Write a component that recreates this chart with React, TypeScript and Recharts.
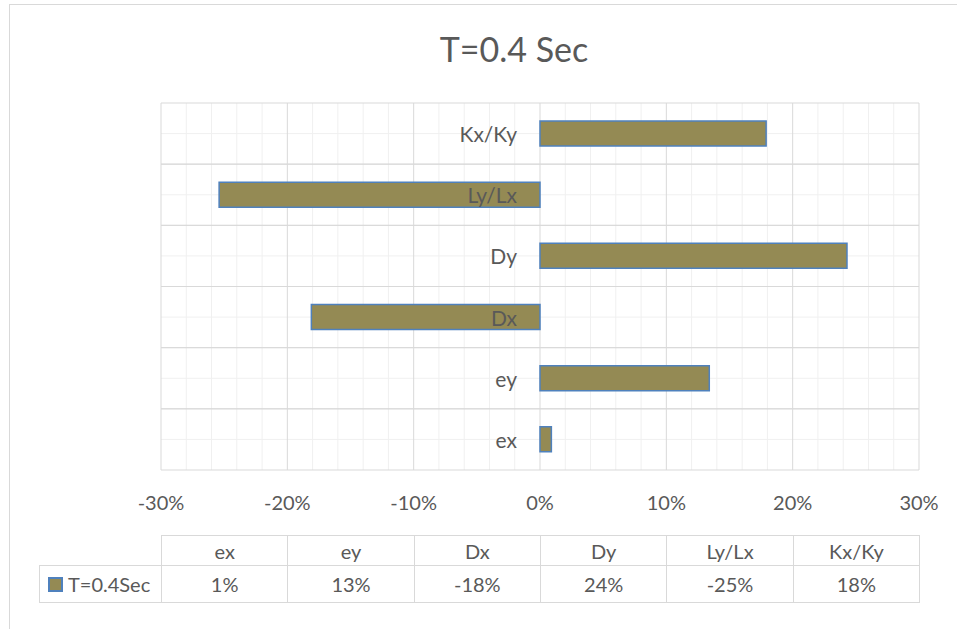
import { BarChart, Bar, XAxis, YAxis, CartesianGrid, LabelList } from "recharts";

const title = "T=0.4 Sec";
const seriesName = "T=0.4Sec";
const categories = ["ex", "ey", "Dx", "Dy", "Ly/Lx", "Kx/Ky"];
const values = [0.9, 13.4, -18.1, 24.3, -25.4, 17.9];
const majorTicks = [-30, -20, -10, 0, 10, 20, 30];
const minorTicks = [-28, -26, -24, -22, -18, -16, -14, -12, -8, -6, -4, -2, 2, 4, 6, 8, 12, 14, 16, 18, 22, 24, 26, 28];

const data = categories.map((name, i) => ({ name, value: values[i] }));

const FONT = "Lato, 'Liberation Sans', sans-serif";
const TEXT = "#595959";
const GRID = "#d9d9d9";
const MINOR = "#f0f0f0";
const FILL = "#948a54";
const EDGE = "#4f81bd";

const W = 957;
const H = 629;
const PLOT_L = 161;
const PLOT_R = 919;
const PLOT_T = 103;
const PLOT_B = 470;
const X_AXIS_H = 30;

function scaleOf(axis: any, v: any) {
  const s = axis?.scale;
  if (!s) return NaN;
  return typeof s === "function" ? s(v) : s.map(v);
}

// band edges (major) or band centres (minor) of the category axis
function bandLines(axis: any, offset: any, centres: boolean) {
  const s = axis?.scale;
  const bw = s && typeof s.bandwidth === "function" ? s.bandwidth() : NaN;
  const starts = categories.map((c) => scaleOf(axis, c));
  if (!isNaN(bw) && starts.every((p) => !isNaN(p))) {
    if (centres) return starts.map((p) => p + bw / 2);
    return [...starts, ...starts.map((p) => p + bw)];
  }
  const step = offset.height / categories.length;
  return categories
    .map((_, i) => offset.top + (centres ? (i + 0.5) * step : i * step))
    .concat(centres ? [] : [offset.top + offset.height]);
}

const pct = (v: number) => `${v}%`;

function CategoryLabel(props: any) {
  const { x, y, width, height, value } = props;
  const v = values[categories.indexOf(value)];
  const left = Math.min(x, x + width);
  const right = Math.max(x, x + width);
  const zero = v < 0 ? right : left;
  return (
    <text
      x={zero - 23}
      y={y + height / 2}
      textAnchor="end"
      dominantBaseline="central"
      fill={TEXT}
      fontSize={21}
      fontFamily={FONT}
    >
      {value}
    </text>
  );
}

function XTick(props: any) {
  const { x, payload } = props;
  return (
    <text x={x} y={PLOT_B + 32} textAnchor="middle" dominantBaseline="central" fill={TEXT} fontSize={20} fontFamily={FONT}>
      {pct(payload.value)}
    </text>
  );
}

const colW = (PLOT_R - PLOT_L) / categories.length;

function DataTable() {
  const cell: React.CSSProperties = {
    position: "absolute",
    boxSizing: "border-box",
    border: `1px solid ${GRID}`,
    display: "flex",
    alignItems: "center",
    justifyContent: "center",
    color: TEXT,
    fontFamily: FONT,
    fontSize: 20,
  };
  return (
    <>
      {categories.map((c, i) => (
        <div key={"h" + c} style={{ ...cell, left: PLOT_L + i * colW, top: 535, width: colW + 1, height: 31 }}>
          {c}
        </div>
      ))}
      <div style={{ ...cell, left: 39, top: 565, width: PLOT_L - 39 + 1, height: 38, justifyContent: "flex-start", paddingLeft: 8 }}>
        <span style={{ display: "inline-block", width: 11, height: 11, background: FILL, border: `2px solid ${EDGE}`, marginRight: 5 }} />
        {seriesName}
      </div>
      {values.map((v, i) => (
        <div key={"v" + i} style={{ ...cell, left: PLOT_L + i * colW, top: 565, width: colW + 1, height: 38 }}>
          {pct(Math.round(v))}
        </div>
      ))}
    </>
  );
}

export default function App() {
  return (
    <div style={{ position: "absolute", left: 0, top: 0, width: W, height: H, background: "#fff", overflow: "hidden" }}>
      <div style={{ position: "absolute", left: 9, top: 4, width: W, height: H, border: `1px solid ${GRID}`, boxSizing: "border-box" }} />
      <div
        style={{
          position: "absolute",
          left: 0,
          top: 28,
          width: 1028,
          textAlign: "center",
          fontFamily: FONT,
          fontSize: 34,
          color: TEXT,
        }}
      >
        {title}
      </div>
      <div style={{ position: "absolute", left: 0, top: 0 }}>
        <BarChart
          width={W}
          height={H}
          data={data}
          layout="vertical"
          margin={{ top: PLOT_T, right: W - PLOT_R, bottom: H - PLOT_B - X_AXIS_H, left: PLOT_L }}
        >
          <CartesianGrid
            stroke={MINOR}
            xAxisId="x"
            yAxisId="cat"
            horizontalCoordinatesGenerator={({ yAxis, offset }: any) => bandLines(yAxis, offset, true)}
            verticalCoordinatesGenerator={({ xAxis }: any) => minorTicks.map((v) => scaleOf(xAxis, v))}
          />
          <CartesianGrid
            stroke={GRID}
            xAxisId="x"
            yAxisId="cat"
            horizontalCoordinatesGenerator={({ yAxis, offset }: any) => bandLines(yAxis, offset, false)}
            verticalCoordinatesGenerator={({ xAxis }: any) => majorTicks.map((v) => scaleOf(xAxis, v))}
          />
          <XAxis
            xAxisId="x"
            type="number"
            domain={[-30, 30]}
            ticks={majorTicks}
            interval={0}
            height={X_AXIS_H}
            axisLine={false}
            tickLine={false}
            tick={<XTick />}
          />
          <YAxis yAxisId="cat" type="category" dataKey="name" reversed hide />
          <Bar
            xAxisId="x"
            yAxisId="cat"
            dataKey="value"
            name={seriesName}
            fill={FILL}
            stroke={EDGE}
            strokeWidth={1.5}
            barSize={25}
            isAnimationActive={false}
          >
            <LabelList dataKey="name" content={<CategoryLabel />} />
          </Bar>
        </BarChart>
      </div>
      <DataTable />
    </div>
  );
}
